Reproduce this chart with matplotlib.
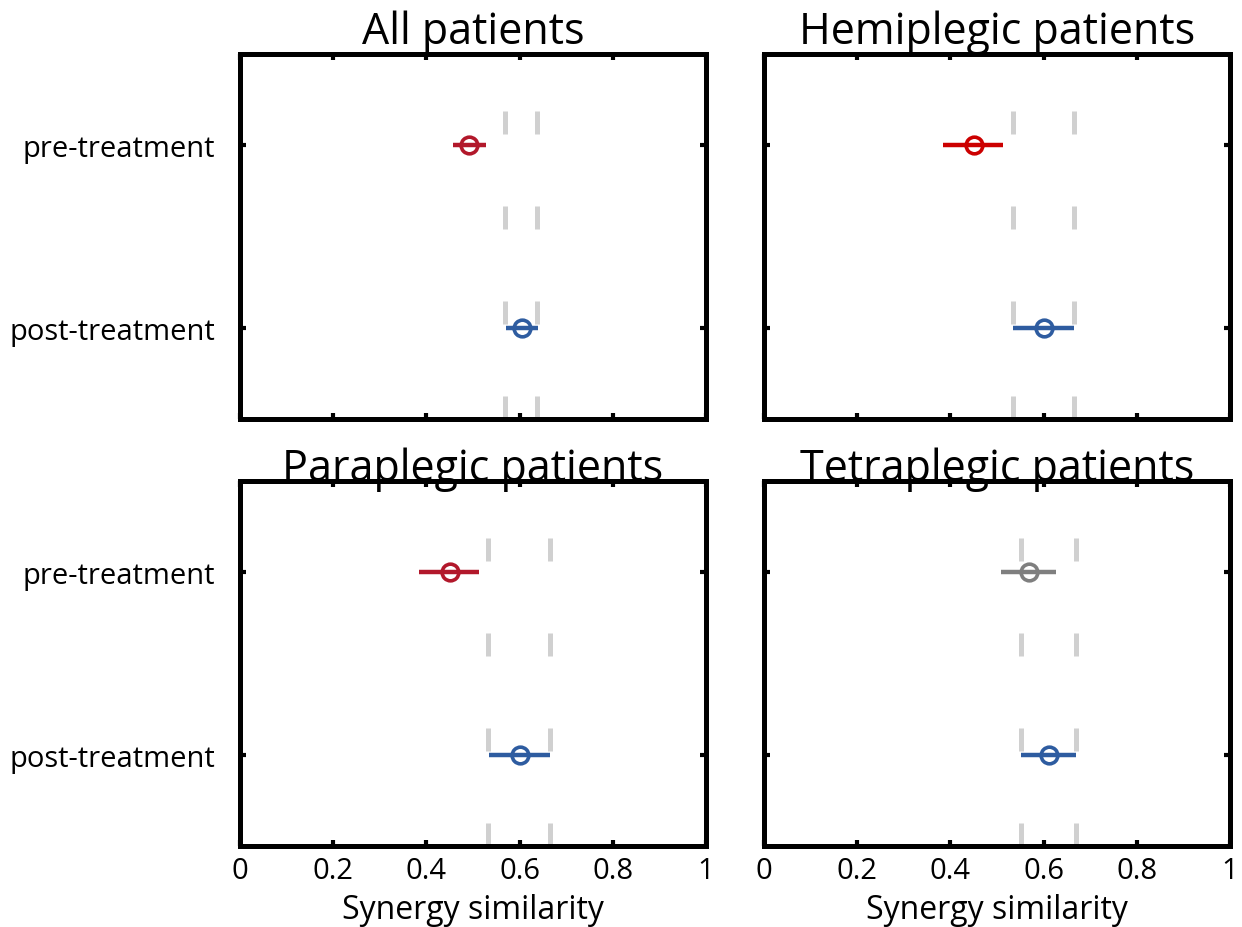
import numpy as np
import matplotlib
matplotlib.use('Agg')
import matplotlib.pyplot as plt

plt.rcParams['font.family'] = ['Open Sans', 'DejaVu Sans']

groups = ['All patients', 'Hemiplegic patients', 'Paraplegic patients', 'Tetraplegic patients']
phases = ['pre-treatment', 'post-treatment']

pre_mean = [0.492, 0.450, 0.451, 0.569]
pre_lo = [0.458, 0.384, 0.384, 0.509]
pre_hi = [0.527, 0.514, 0.514, 0.627]
post_mean = [0.605, 0.601, 0.602, 0.611]
post_lo = [0.570, 0.534, 0.535, 0.552]
post_hi = [0.639, 0.665, 0.665, 0.669]
# reference band (dashed grey lines)
ref_lo = [0.568, 0.534, 0.533, 0.552]
ref_hi = [0.638, 0.665, 0.666, 0.670]

pre_colors = ['#B2182B', '#CC0000', '#B2182B', '#7F7F7F']
post_color = '#2E5CA0'
ref_color = '#D0D0D0'

fig = plt.figure(figsize=(12.42, 9.28), dpi=100)
w = 0.3752
h = 0.3933
positions = [
    [0.1932, 0.5474, w, h],
    [0.6151, 0.5474, w, h],
    [0.1932, 0.0873, w, h],
    [0.6151, 0.0873, w, h],
]

for i in range(4):
    ax = fig.add_axes(positions[i])
    for xr in (ref_lo[i], ref_hi[i]):
        ax.plot([xr, xr], [2.5, 0.5], color=ref_color, lw=3.6,
                linestyle=(0, (4.6, 14.4)), solid_capstyle='butt', zorder=1)
    ax.errorbar([pre_mean[i]], [1],
                xerr=[[pre_mean[i] - pre_lo[i]], [pre_hi[i] - pre_mean[i]]],
                fmt='o', color=pre_colors[i], mfc='none', mec=pre_colors[i],
                ms=12, mew=2.6, elinewidth=3.2, capsize=0, zorder=3)
    ax.errorbar([post_mean[i]], [2],
                xerr=[[post_mean[i] - post_lo[i]], [post_hi[i] - post_mean[i]]],
                fmt='o', color=post_color, mfc='none', mec=post_color,
                ms=12, mew=2.6, elinewidth=3.2, capsize=0, zorder=3)
    ax.set_xlim(0, 1)
    ax.set_ylim(2.5, 0.5)
    ax.set_xticks([0, 0.2, 0.4, 0.6, 0.8, 1])
    ax.set_xticklabels(['0', '0.2', '0.4', '0.6', '0.8', '1'])
    ax.set_yticks([1, 2])
    ax.tick_params(direction='in', length=4, width=3, top=True, right=True,
                   labelsize=21, pad=7)
    ax.tick_params(axis='y', pad=18)
    for s in ax.spines.values():
        s.set_linewidth(3.6)
    if i % 2 == 0:
        ax.set_yticklabels(phases)
    else:
        ax.set_yticklabels([])
    if i < 2:
        ax.set_xticklabels([])
    else:
        ax.set_xlabel('Synergy similarity', fontsize=23, labelpad=6)
    ax.set_title(groups[i], fontsize=31, pad=1)

fig.savefig('out.png', dpi=100)
